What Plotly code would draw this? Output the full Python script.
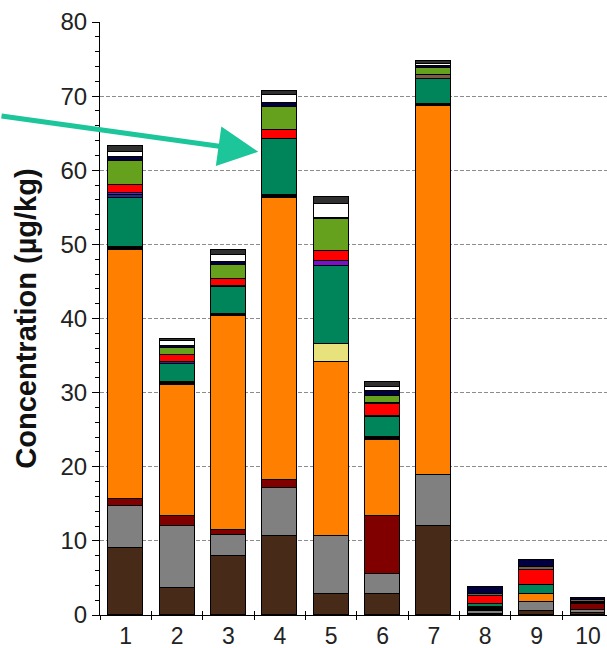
import plotly.graph_objects as go

categories = [1, 2, 3, 4, 5, 6, 7, 8, 9, 10]
tick_labels = ["1", "2", "3", "4", "5", "6", "7", "8", "9", "10"]

# stacked segments, bottom to top (µg/kg)
brown   = [9.0, 3.6, 7.9, 10.6, 2.8, 2.8, 12.0, 0.2, 0.6, 0.3]
grey    = [5.7, 8.4, 2.9, 6.6, 7.8, 2.7, 6.9, 0.4, 1.2, 0.35]
darkred = [1.0, 1.3, 0.7, 1.0, None, 7.8, None, None, None, 0.9]
orange  = [33.5, 17.7, 28.8, 38.0, 23.5, 10.3, 49.8, None, 1.0, None]
black   = [0.4, 0.4, 0.3, 0.4, None, 0.45, 0.2, 0.5, None, 0.15]
yellow  = [None, None, None, None, 2.5, None, None, None, None, None]
teal    = [6.6, 2.5, 3.7, 7.6, 10.5, 2.65, 3.4, 0.4, 1.3, None]
blue    = [0.5, 0.2, 0.1, None, None, 0.15, None, None, None, None]
purple  = [0.2, None, None, None, 0.7, None, None, None, None, None]
red     = [1.1, 1.0, 0.9, 1.2, 1.3, 1.6, None, 1.0, 2.0, None]
tan     = [None, None, None, None, None, 0.15, 0.5, 0.4, 0.4, 0.35]
lime    = [3.3, 0.9, 1.9, 3.2, 4.3, 1.0, 0.95, None, None, None]
navy    = [0.5, 0.3, 0.4, 0.5, 0.2, 0.6, 0.3, 0.9, 0.9, 0.2]
white   = [0.6, 0.6, 0.9, 1.0, 1.9, 0.6, 0.35, None, None, None]
darktop = [0.9, 0.4, 0.7, 0.6, 0.85, 0.6, 0.35, None, None, None]

series = [
    ("brown", brown, "#472a17"),
    ("grey", grey, "#808080"),
    ("darkred", darkred, "#800000"),
    ("orange", orange, "#ff8000"),
    ("black", black, "#000000"),
    ("yellow", yellow, "#e8e27c"),
    ("teal", teal, "#00855a"),
    ("blue", blue, "#1c2ca0"),
    ("purple", purple, "#7a10c8"),
    ("red", red, "#ff0000"),
    ("tan", tan, "#7e5a48"),
    ("lime", lime, "#66a11e"),
    ("navy", navy, "#000040"),
    ("white", white, "#ffffff"),
    ("darktop", darktop, "#303030"),
]

fig = go.Figure()
for name, vals, col in series:
    fig.add_trace(go.Bar(
        x=categories, y=vals, name=name, width=0.68,
        marker=dict(color=col, line=dict(color="black", width=1.5)),
    ))

# helper overlay axis for the inward half of the x tick marks
fig.add_trace(go.Scatter(x=[1], y=[0], xaxis="x2", yaxis="y2", mode="markers",
                         marker=dict(opacity=0), hoverinfo="skip", showlegend=False))

font_fam = "Liberation Sans, Arial, sans-serif"
fig.update_layout(
    width=607, height=648,
    margin=dict(l=100, r=0, t=22, b=33),
    barmode="stack", bargap=0,
    showlegend=False,
    plot_bgcolor="white", paper_bgcolor="white",
    font=dict(family=font_fam, color="#222222"),
    xaxis=dict(
        range=[0.5, 10.37], tickmode="array", tickvals=categories, ticktext=tick_labels,
        ticks="", showgrid=False, zeroline=False, automargin=False,
        showline=True, linecolor="black", linewidth=1,
        tickfont=dict(size=23, color="#222222"),
        minor=dict(tickmode="linear", tick0=0.5, dtick=1, ticks="outside", ticklen=4,
                   tickcolor="black", tickwidth=1, showgrid=False),
    ),
    xaxis2=dict(
        overlaying="x", matches="x", tickmode="linear", tick0=0.5, dtick=1,
        ticks="inside", ticklen=4, tickcolor="black", showticklabels=False,
        showgrid=False, zeroline=False, showline=False, automargin=False,
    ),
    yaxis2=dict(overlaying="y", matches="y", showticklabels=False, ticks="",
                showgrid=False, zeroline=False, showline=False, automargin=False),
    yaxis=dict(
        range=[0, 80], tickmode="array", tickvals=[0, 10, 20, 30, 40, 50, 60, 70, 80],
        ticks="outside", ticklen=7, tickcolor="black", tickwidth=1,
        showline=True, linecolor="black", linewidth=1, zeroline=False, automargin=False,
        showgrid=True, gridcolor="#8c8c8c", gridwidth=1, griddash="4px,2px",
        tickfont=dict(size=24, color="#222222"),
        minor=dict(tickmode="linear", tick0=0, dtick=2, ticks="outside", ticklen=4,
                   tickcolor="black", tickwidth=1, showgrid=False),
        title=dict(text="<b>Concentration (µg/kg)</b>", font=dict(size=29, color="#111111"),
                   standoff=15),
    ),
    annotations=[dict(
        x=3.58, y=62.5, xref="x", yref="y", ax=-275, ay=-36,
        showarrow=True, arrowhead=2, arrowsize=1.6, arrowwidth=5,
        arrowcolor="#1dc59a", text="",
    )],
)

fig.write_html("out.html", config={"displayModeBar": False},
               post_script="document.body.style.margin='0';document.body.style.overflow='hidden';")
